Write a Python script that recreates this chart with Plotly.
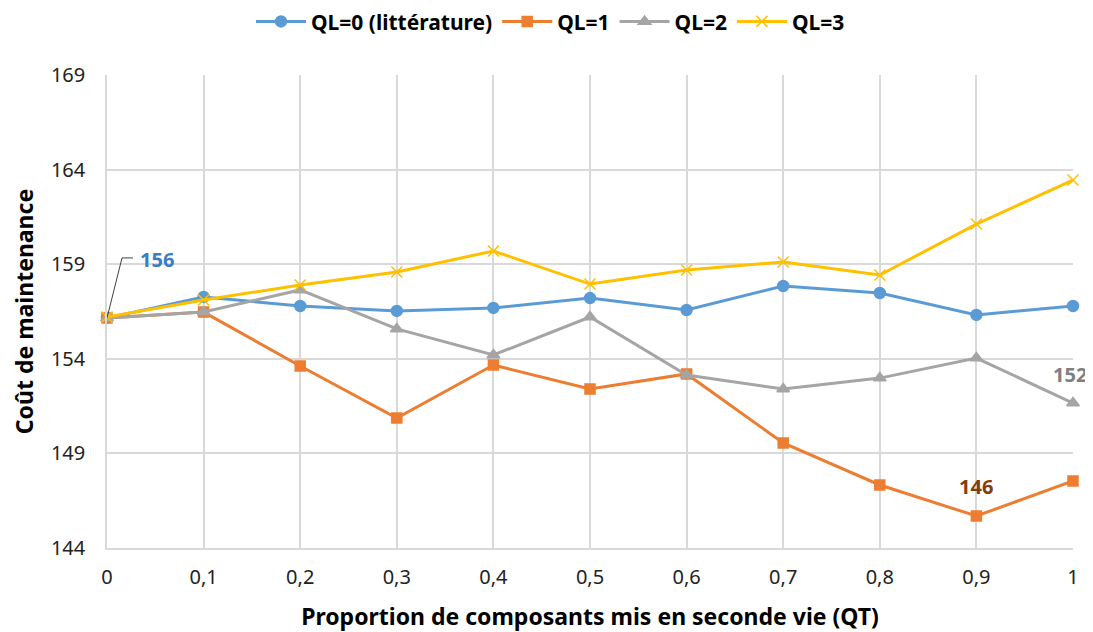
import plotly.graph_objects as go

qt = [0, 0.1, 0.2, 0.3, 0.4, 0.5, 0.6, 0.7, 0.8, 0.9, 1]
x_labels = ["0", "0,1", "0,2", "0,3", "0,4", "0,5", "0,6", "0,7", "0,8", "0,9", "1"]
ql0 = [156.16, 157.27, 156.79, 156.53, 156.69, 157.21, 156.58, 157.85, 157.48, 156.32, 156.79]
ql1 = [156.16, 156.47, 153.62, 150.87, 153.67, 152.40, 153.20, 149.55, 147.33, 145.69, 147.54]
ql2 = [156.16, 156.47, 157.64, 155.58, 154.20, 156.21, 153.14, 152.40, 152.98, 154.04, 151.66]
ql3 = [156.21, 157.11, 157.90, 158.59, 159.70, 157.95, 158.69, 159.12, 158.43, 161.12, 163.45]
y_ticks = [144, 149, 154, 159, 164, 169]

FONT = "Noto Sans"
fig = go.Figure()
series = [
    ("<b>QL=0 (littérature)</b>", ql0, "#5B9BD5", "circle", 11),
    ("<b>QL=1</b>", ql1, "#ED7D31", "square", 10),
    ("<b>QL=2</b>", ql2, "#A5A5A5", "triangle-up", 11),
    ("<b>QL=3</b>", ql3, "#FFC000", "x-thin-open", 11),
]
for name, vals, col, sym, sz in series:
    fig.add_trace(go.Scatter(
        x=qt, y=vals, name=name, mode="lines+markers",
        line=dict(color=col, width=3),
        marker=dict(symbol=sym, size=sz, color=col, line=dict(color=col, width=1.5)),
        cliponaxis=False,
    ))

# bent leader line for the "156" label, anchored at the first QL=0 point
fig.add_shape(type="path", xref="x", yref="y",
              xsizemode="pixel", ysizemode="pixel",
              xanchor=qt[0], yanchor=ql0[0],
              path="M0,0 L15,60 L26,60",
              line=dict(color="#404040", width=1), layer="above")
fig.add_annotation(x=qt[0], y=ql0[0], text="<b>156</b>", showarrow=False,
                   xanchor="left", yanchor="middle", xshift=31, yshift=58,
                   font=dict(family=FONT, size=20, color="#3B7DC4"))
fig.add_annotation(x=qt[9], y=ql1[9], text="<b>146</b>", showarrow=False,
                   yshift=30, font=dict(family=FONT, size=20, color="#843C0C"))
fig.add_annotation(x=qt[10], y=ql2[10], text="<b>152</b>", showarrow=False,
                   yshift=29, xshift=-3, font=dict(family=FONT, size=20, color="#7F7F7F"))

fig.update_layout(
    width=1085, height=624,
    margin=dict(l=99, r=20, t=67, b=84),
    plot_bgcolor="white", paper_bgcolor="white",
    font=dict(family=FONT, size=20, color="#222222"),
    showlegend=True,
    legend=dict(orientation="h", x=0.5, xanchor="center", xref="container",
                y=0.978, yanchor="middle", yref="container",
                font=dict(family=FONT, size=21, color="#000000"),
                itemwidth=50, traceorder="normal", tracegroupgap=0),
    xaxis=dict(range=[0, 1], tickvals=qt, ticktext=x_labels, showgrid=True,
               gridcolor="#D9D9D9", gridwidth=1.5, zeroline=False, showline=True,
               linecolor="#D9D9D9", linewidth=1.5, ticks="", automargin=False,
               ticklabelstandoff=10,
               title=dict(text="<b>Proportion de composants mis en seconde vie (QT)</b>",
                          font=dict(size=23, color="#000000"), standoff=20),
               tickfont=dict(size=20, color="#222222")),
    yaxis=dict(range=[144, 169], tickvals=y_ticks, showgrid=True,
               gridcolor="#D9D9D9", gridwidth=1.5, zeroline=False, showline=True,
               linecolor="#D9D9D9", linewidth=1.5, ticks="", automargin=False,
               ticklabelstandoff=16,
               title=dict(text="<b>Coût de maintenance</b>",
                          font=dict(size=23, color="#000000"), standoff=15),
               tickfont=dict(size=20, color="#222222")),
)
fig.write_html("out.html")
